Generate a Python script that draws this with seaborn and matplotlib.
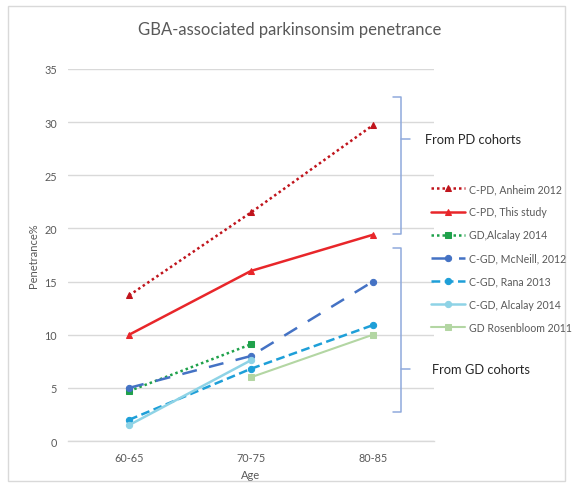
import matplotlib
matplotlib.use("Agg")
import matplotlib.pyplot as plt
import seaborn as sns
import numpy as np
import pandas as pd
from matplotlib.patches import Rectangle

ages = ["60-65", "70-75", "80-85"]
series_names = [
    "C-PD, Anheim 2012",
    "C-PD, This study",
    "GD,Alcalay 2014",
    "C-GD, McNeill, 2012",
    "C-GD, Rana 2013",
    "C-GD, Alcalay 2014",
    "GD Rosenbloom 2011",
]
anheim = [13.7, 21.5, 29.7]
this_study = [10.0, 16.0, 19.4]
gd_alcalay = [4.7, 9.1, np.nan]
mcneill = [5.0, 8.0, 15.0]
rana = [2.0, 6.8, 10.9]
cgd_alcalay = [1.5, 7.6, np.nan]
rosenbloom = [np.nan, 6.0, 10.0]
values = [anheim, this_study, gd_alcalay, mcneill, rana, cgd_alcalay, rosenbloom]

colors = ["#C0141C", "#E8262A", "#1FA14B", "#4472C4", "#1E9FD8", "#8ED3E6", "#B3D6A3"]
dashes = [(1, 1.2), (), (1, 1.2), (6, 5), (3.5, 1.8), (), ()]
markers = ["^", "^", "s", "o", "o", "o", "s"]
msizes = [4.5, 5.5, 5, 5, 5, 5, 5]
lwidths = [1.8, 1.8, 1.8, 1.8, 1.8, 1.8, 1.5]

sns.set_theme(style="white")
plt.rcParams["font.family"] = ["Lato", "DejaVu Sans"]
gray = "#595959"

fig = plt.figure(figsize=(5.73, 4.89), dpi=100)
ax = fig.add_axes([0.119, 0.096, 0.638, 0.761])

for name, vals, c, d, m, ms, lw in zip(series_names, values, colors, dashes, markers, msizes, lwidths):
    df = pd.DataFrame({"Age": ages, "v": vals}).dropna()
    sns.lineplot(data=df, x="Age", y="v", ax=ax, color=c, marker=m, markersize=ms,
                 markeredgecolor=c, linewidth=lw, label=name, sort=False,
                 dashes=False, linestyle="-" if d == () else (0, d))

ax.set_xlim(-0.5, 2.5)
ax.set_ylim(0, 35)
ax.set_yticks(range(0, 36, 5))
ax.grid(axis="y", color="#D9D9D9", linewidth=1)
for s in ["top", "right", "left"]:
    ax.spines[s].set_visible(False)
ax.spines["bottom"].set_color("#D9D9D9")
ax.spines["bottom"].set_linewidth(1)
ax.tick_params(axis="both", length=0, labelsize=7.8, labelcolor=gray, pad=8)
ax.set_xlabel("Age", fontsize=8, color=gray, labelpad=4)
ax.set_ylabel("Penetrance%", fontsize=8, color=gray, labelpad=4)
fig.suptitle("GBA-associated parkinsonsim penetrance", x=0.505, y=0.955, fontsize=12, color=gray)

handles, labels = ax.get_legend_handles_labels()
if ax.legend_:
    ax.legend_.remove()
for h in handles:
    h.set_markersize(4.5)
fig.legend(handles, labels, loc="upper left", bbox_to_anchor=(0.735, 0.643), frameon=False,
           fontsize=7.6, labelcolor=gray, handlelength=3.3, handletextpad=0.35, labelspacing=1.15)

# brackets (figure pixel coords -> fraction)
W, H = 573, 489
def fx(x): return x / W
def fy(y): return 1 - y / H
bc = "#8FAADC"
for top, bot, mid in [(98, 235, 140), (249, 413, 370)]:
    fig.add_artist(plt.Line2D([fx(393), fx(401), fx(401), fx(393)],
                              [fy(top), fy(top), fy(bot), fy(bot)], color=bc, lw=1.1))
    fig.add_artist(plt.Line2D([fx(401), fx(410)], [fy(mid), fy(mid)], color=bc, lw=1.1))
fig.text(fx(425), fy(140), "From PD cohorts", fontsize=9.3, color="#262626", va="center")
fig.text(fx(432), fy(370), "From GD cohorts", fontsize=9.3, color="#262626", va="center")

fig.add_artist(Rectangle((fx(8), fy(482)), fx(557), fy(7) - fy(482),
                         transform=fig.transFigure, fill=False, edgecolor="#D9D9D9", lw=1))

fig.savefig("out.png", dpi=100)
